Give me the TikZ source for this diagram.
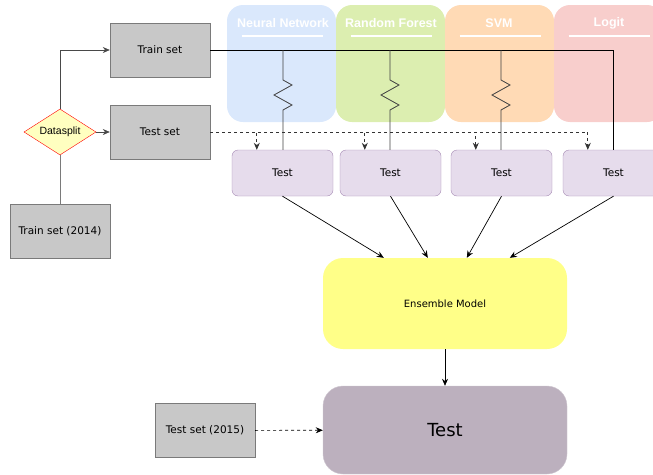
\documentclass[tikz,border=0pt]{standalone}
\usepackage{fontspec}
\setmainfont{DejaVu Sans}
\newfontfamily\headfont{Liberation Sans}
\usetikzlibrary{shapes.geometric,arrows.meta,decorations.pathmorphing,calc}

\definecolor{setfill}{HTML}{C8C8C8}
\definecolor{setline}{HTML}{7A7A7A}
\definecolor{testfill}{HTML}{E6DCEC}
\definecolor{testline}{HTML}{A68AB4}
\definecolor{nnfill}{HTML}{DAE8FC}
\definecolor{rffill}{HTML}{DCEEB0}
\definecolor{svmfill}{HTML}{FFDAB5}
\definecolor{logitfill}{HTML}{F8CECC}
\definecolor{ensfill}{HTML}{FFFF88}
\definecolor{splitfill}{HTML}{FFFFC0}
\definecolor{finalfill}{HTML}{BCB0BE}

\tikzset{
  setbox/.style={draw=setline, fill=setfill, minimum width=100pt, minimum height=54pt,
    font=\fontsize{10.5}{12}\selectfont},
  testbox/.style={draw=testline, fill=testfill, rounded corners=6pt, minimum width=101pt,
    minimum height=46pt, font=\fontsize{10.5}{12}\selectfont},
  modelcol/.style={fill=#1, rounded corners=16pt, minimum width=109pt, minimum height=117pt},
  modelhead/.style={text=white, font=\headfont\bfseries\fontsize{12.5}{14}\selectfont},
  headline/.style={draw=white, line width=1.5pt},
  flow/.style={-{Stealth[length=7pt,width=6pt]}, line width=0.7pt},
  dflow/.style={flow, dash pattern=on 3pt off 3pt},
  resistor/.style={decorate, decoration={zigzag, segment length=20pt, amplitude=9pt,
    pre length=30pt, post length=31pt}},
}

\begin{document}
\begin{tikzpicture}[x=1pt, y=-1pt]
  \path[use as bounding box, clip] (0,0) rectangle (653,474);

  % model columns
  \node[modelcol=nnfill] (C1) at (281.5,63.5) {};
  \node[modelcol=rffill] (C2) at (390.5,63.5) {};
  \node[modelcol=svmfill] (C3) at (499.5,63.5) {};
  \node[modelcol=logitfill] (C4) at (608.5,63.5) {};
  \node[modelhead] (H1) at (283,23) {Neural Network};
  \node[modelhead] (H2) at (391,23) {Random Forest};
  \node[modelhead] (H3) at (499,23) {SVM};
  \node[modelhead] (H4) at (609,23) {Logit};
  \foreach \c in {C1,C2,C3,C4}
    \draw[headline] ($(\c.north)+(-40,31)$) -- ++(81,0);

  \node[setbox] (TRN) at (160,50) {Train set};
  \node[setbox] (TST) at (160,132) {Test set};
  \node[draw=red, fill=splitfill, shape=diamond, aspect=1.565, minimum width=72pt,
    minimum height=46pt, inner sep=0pt, font=\headfont\fontsize{10.5}{12}\selectfont]
    (DS) at (60,132) {Datasplit};
  \node[setbox] (TR14) at (60,231.5) {Train set (2014)};
  \node[setbox] (TS15) at (205,430.5) {Test set (2015)};

  \node[testbox] (T1) at (282.5,173) {Test};
  \node[testbox] (T2) at (390.5,173) {Test};
  \node[testbox] (T3) at (501.5,173) {Test};
  \node[testbox] (T4) at (613.5,173) {Test};

  \node[fill=ensfill, rounded corners=20pt, minimum width=244pt, minimum height=91pt,
    font=\fontsize{10}{12}\selectfont] (ENS) at (445,303.5) {Ensemble Model};
  \node[draw=finalfill!70, fill=finalfill, rounded corners=20pt, minimum width=244pt,
    minimum height=88pt, font=\fontsize{18}{20}\selectfont] (FIN) at (445,430) {Test};

  % data split
  \draw[setline, line width=1pt] (TR14) -- (DS);
  \draw[flow, setline!60!black] (DS.north) |- (TRN.west);
  \draw[flow, setline!60!black] (DS.east) -- (TST.west);

  % training line with resistors
  \coordinate (J1) at (283,50);
  \coordinate (J2) at (390,50);
  \coordinate (J3) at (501,50);
  \draw[line width=0.7pt] (TRN.east) -| (T4.north);
  \draw[resistor, line width=0.8pt, black!75] (J1) -- (J1 |- T1.north);
  \draw[resistor, line width=0.8pt, black!75] (J2) -- (J2 |- T2.north);
  \draw[resistor, line width=0.8pt, black!75] (J3) -- (J3 |- T3.north);

  % test set to the test boxes
  \foreach \t in {T1,T2,T3,T4}
    \draw[dflow, black!80, line width=0.8pt] (TST.east) -| ($(\t.north west)+(25,0)$);

  \foreach \t/\dx in {T1/61,T2/105,T3/144,T4/187}
    \draw[flow] (\t.south) -- ($(ENS.north west)+(\dx,0)$);
  \draw[flow] (ENS) -- (FIN);
  \draw[dflow] (TS15) -- (FIN);
\end{tikzpicture}
\end{document}
